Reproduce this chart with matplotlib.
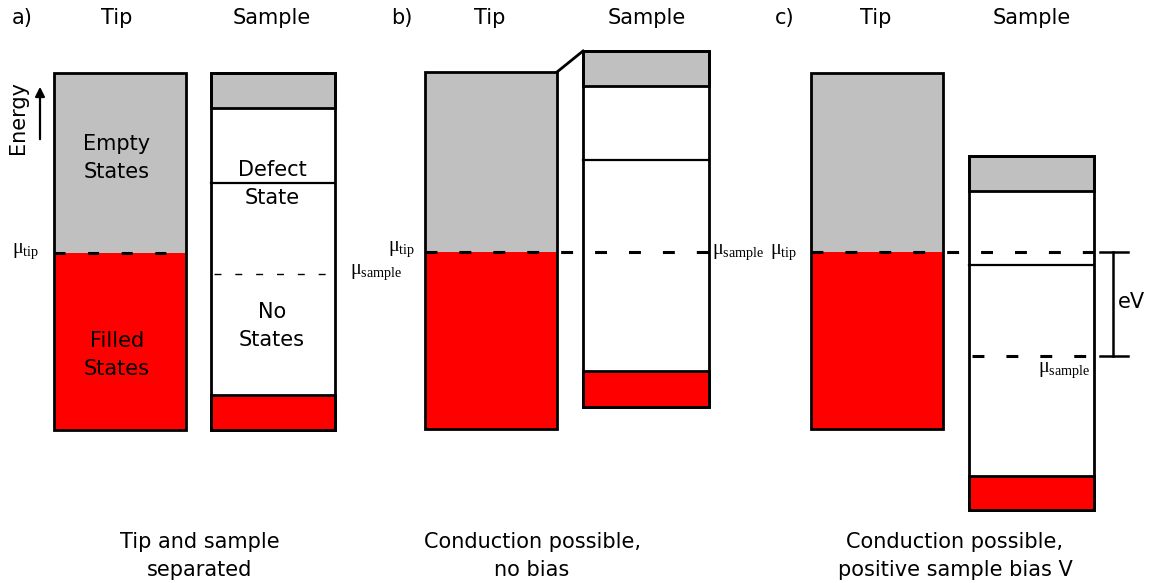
import matplotlib.pyplot as plt
from matplotlib.patches import Rectangle

plt.rcParams['font.family'] = ['DejaVu Sans']
plt.rcParams['mathtext.fontset'] = 'custom'
plt.rcParams['mathtext.rm'] = 'Liberation Serif'
plt.rcParams['mathtext.it'] = 'Liberation Serif'

W, H = 1153, 583

# panel headers and captions
panel_tags = ["a)", "b)", "c)"]
tag_x = [22, 402, 785]
tip_head_x = [117, 490, 876]
sample_head_x = [272, 647, 1032]
captions = ["Tip and sample\nseparated",
            "Conduction possible,\nno bias",
            "Conduction possible,\npositive sample bias V"]
caption_x = [200, 532, 955]

# tip columns: left, right, top, bottom, Fermi level (screen y, down = lower energy)
tip_left = [54, 425, 811]
tip_right = [186, 557, 943]
tip_top = [73, 72, 73]
tip_bottom = [430, 429, 429]
tip_fermi = [253, 252, 252]

# sample columns: left, right, top, conduction band edge, defect level,
# Fermi level, valence band top, bottom
s_left = [211, 583, 969]
s_right = [335, 709, 1094]
s_top = [73, 51, 156]
s_cb = [108, 86, 191]
s_defect = [183, 160, 265]
s_fermi = [274, 252, 356]
s_vb = [395, 371, 476]
s_bottom = [430, 407, 510]

GRAY = "#c0c0c0"
RED = "#ff0000"
LW = 2.0
FS = 15
MU_FS = 14.5
DASH = (3.9, 7.2)
LS = 1.45


def mu(sub):
    return r"$\mathrm{\mu}_{\mathrm{%s}}$" % sub


fig = plt.figure(figsize=(W / 100, H / 100), dpi=100)
ax = fig.add_axes([0, 0, 1, 1])
ax.set_xlim(0, W)
ax.set_ylim(H, 0)
ax.axis("off")

for i in range(3):
    # tip: empty states above Fermi level, filled below
    tl, tr = tip_left[i], tip_right[i]
    ax.add_patch(Rectangle((tl, tip_top[i]), tr - tl, tip_fermi[i] - tip_top[i],
                           facecolor=GRAY, edgecolor="none"))
    ax.add_patch(Rectangle((tl, tip_fermi[i]), tr - tl, tip_bottom[i] - tip_fermi[i],
                           facecolor=RED, edgecolor="none"))
    ax.add_patch(Rectangle((tl, tip_top[i]), tr - tl, tip_bottom[i] - tip_top[i],
                           facecolor="none", edgecolor="black", lw=LW))

    # sample: conduction band, gap with defect state, valence band
    sl, sr = s_left[i], s_right[i]
    ax.add_patch(Rectangle((sl, s_top[i]), sr - sl, s_cb[i] - s_top[i],
                           facecolor=GRAY, edgecolor="black", lw=LW))
    ax.add_patch(Rectangle((sl, s_vb[i]), sr - sl, s_bottom[i] - s_vb[i],
                           facecolor=RED, edgecolor="black", lw=LW))
    ax.add_patch(Rectangle((sl, s_top[i]), sr - sl, s_bottom[i] - s_top[i],
                           facecolor="none", edgecolor="black", lw=LW))
    ax.plot([sl, sr], [s_defect[i], s_defect[i]], color="black", lw=1.6)

    # headers
    ax.text(tag_x[i], 18, panel_tags[i], ha="center", va="center", fontsize=FS)
    ax.text(tip_head_x[i], 18, "Tip", ha="center", va="center", fontsize=FS)
    ax.text(sample_head_x[i], 18, "Sample", ha="center", va="center", fontsize=FS)
    ax.text(caption_x[i], 556, captions[i], ha="center", va="center",
            fontsize=FS, linespacing=LS)

# panel a: separated tip and sample
ax.plot([tip_left[0], tip_right[0]], [tip_fermi[0]] * 2, color="black", lw=2.2,
        dashes=(3.6, 7.4))
ax.plot([s_left[0] + 3, s_right[0] - 3], [s_fermi[0]] * 2, color="black", lw=1.0,
        dashes=(5, 10))
ax.text(117, 158, "Empty\nStates", ha="center", va="center", fontsize=FS, linespacing=LS)
ax.text(117, 355, "Filled\nStates", ha="center", va="center", fontsize=FS, linespacing=LS)
ax.text(272, 184, "Defect\nState", ha="center", va="center", fontsize=FS, linespacing=LS)
ax.text(272, 326, "No\nStates", ha="center", va="center", fontsize=FS, linespacing=LS)
ax.text(12, 251, mu("tip"), ha="left", va="center", fontsize=MU_FS)
ax.text(350, 272, mu("sample"), ha="left", va="center", fontsize=MU_FS)
ax.annotate("", xy=(40, 84), xytext=(40, 142),
            arrowprops=dict(arrowstyle="-|>", color="black", lw=1.6, mutation_scale=14))
ax.text(18, 118, "Energy", ha="center", va="center", rotation=90, fontsize=FS)

# panel b: contact, no bias
ax.plot([tip_right[1], s_left[1]], [tip_top[1], s_top[1]], color="black", lw=LW)
ax.plot([tip_left[1], s_right[1]], [tip_fermi[1]] * 2, color="black", lw=2.2,
        dashes=DASH)
ax.text(388, 249, mu("tip"), ha="left", va="center", fontsize=MU_FS)
ax.text(712, 252, mu("sample"), ha="left", va="center", fontsize=MU_FS)

# panel c: positive sample bias
ax.plot([tip_left[2], s_right[2]], [tip_fermi[2]] * 2, color="black", lw=2.2,
        dashes=DASH)
ax.plot([s_left[2] + 3, s_right[2]], [s_fermi[2]] * 2, color="black", lw=2.2,
        dashes=DASH)
ax.text(770, 252, mu("tip"), ha="left", va="center", fontsize=MU_FS)
ax.text(1038, 370, mu("sample"), ha="left", va="center", fontsize=MU_FS)
bx = 1113
ax.plot([bx, bx], [tip_fermi[2], s_fermi[2]], color="black", lw=1.8)
ax.plot([bx - 13, bx + 15], [tip_fermi[2]] * 2, color="black", lw=1.8)
ax.plot([bx - 13, bx + 15], [s_fermi[2]] * 2, color="black", lw=1.8)
ax.text(1131, 302, "eV", ha="center", va="center", fontsize=FS)

fig.savefig("out.png", dpi=100)
